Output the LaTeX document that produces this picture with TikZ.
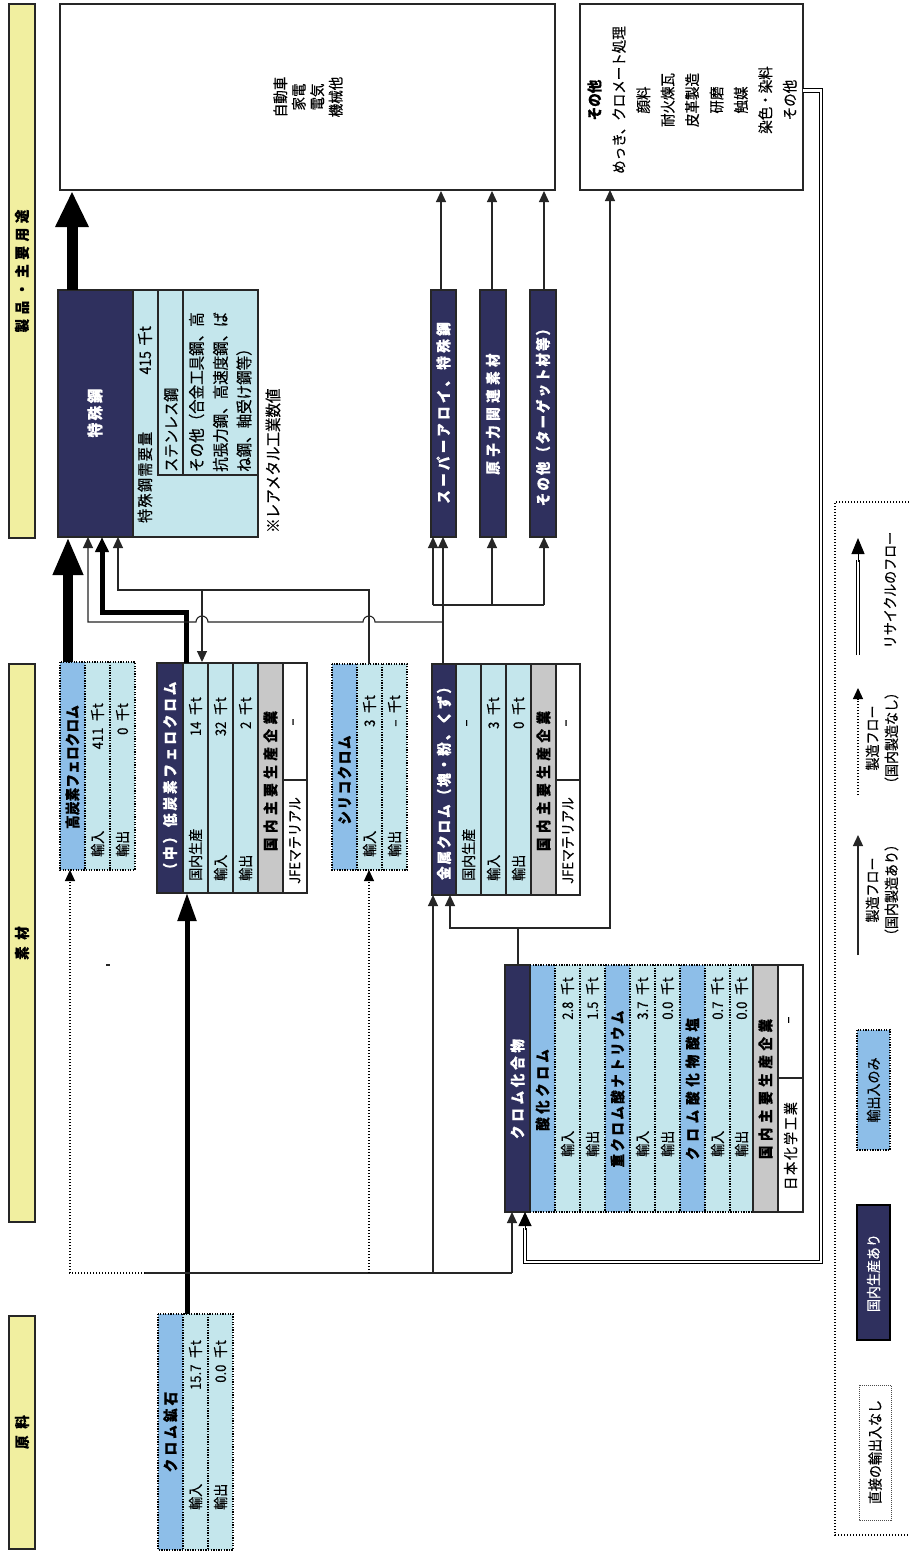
\documentclass[tikz,border=0pt]{standalone}
\usepackage{fontspec}
\setmainfont{Noto Sans CJK JP}
\usetikzlibrary{arrows.meta}
\definecolor{navyc}{RGB}{47,48,94}
\definecolor{hdrc}{RGB}{141,190,232}
\definecolor{cyc}{RGB}{196,230,236}
\definecolor{grayc}{RGB}{200,200,200}
\definecolor{bandc}{RGB}{241,239,160}
\newcommand{\fs}[1]{\fontsize{#1}{#1}\selectfont\addfontfeature{FakeBold=0.4}}
\tikzset{
  rt/.style={rotate=90, yscale=1.12, inner sep=0pt, font=\fs{13}},
  rth/.style={rotate=90, yscale=1.1, inner sep=0pt, font=\bfseries\fs{13.5}\addfontfeature{LetterSpace=#1}},
  rth/.default=25,
  sol/.style={draw=black!85, line width=1.3pt},
  dotb/.style={draw=black, line width=1.3pt, dash pattern=on 1.3pt off 1.3pt},
  flow/.style={draw=black!85, line width=1.1pt},
  dflow/.style={draw=black, line width=1.2pt, dash pattern=on 1.2pt off 1.8pt},
  up/.style={-{Triangle[length=11pt,width=10pt]}},
  dbl/.style={draw=black, line width=1.1pt, double=white, double distance=2.2pt},
}
\begin{document}
\begin{tikzpicture}[x=1pt,y=-1pt]
\useasboundingbox (0,0) rectangle (908,1552);
\fill[white] (0,0) rectangle (908,1552);

% ---------- bands ----------
\draw[sol, fill=bandc] (9,4) rectangle (35,538);
\node[rth=35] (band1) at (22,271) {製品・主要用途};
\draw[sol, fill=bandc] (9,664) rectangle (35,1222);
\node[rth] (band2) at (22,943) {素\hspace{0.5em}材};
\draw[sol, fill=bandc] (9,1316) rectangle (35,1549);
\node[rth] (band3) at (22,1432) {原\hspace{0.5em}料};

% ---------- top boxes ----------
\draw[sol, fill=white] (60,4) rectangle (555,190);
\node[rt, align=center, font=\fs{13.5}\fontsize{13.5}{16.5}\selectfont] (uses) at (308,97) {自動車\\家電\\電気\\機械他};
\draw[sol, fill=white] (580,4) rectangle (803,190);
\node[rt, align=center, font=\fs{13.5}\fontsize{13.5}{21.8}\selectfont] (other) at (692,100)
 {\textbf{その他}\\めっき、クロメート処理\\顔料\\耐火煉瓦\\皮革製造\\研磨\\触媒\\染色・染料\\その他};

% ---------- special steel ----------
\fill[cyc] (58,290) rectangle (258,537);
\fill[navyc] (58,290) rectangle (133,537);
\draw[sol] (58,290) rectangle (258,537);
\draw[sol] (133,290) -- (133,537);
\draw[sol] (158,290) rectangle (258,475);
\draw[sol] (183,290) -- (183,475);
\node[rth=25, text=white, font=\bfseries\fs{14.5}\addfontfeature{LetterSpace=18}] (ss) at (95,413) {特殊鋼};
\node[rt, anchor=west, font=\fs{14}\addfontfeature{LetterSpace=10}] (ss1) at (145,523) {特殊鋼需要量};
\node[rt, anchor=east, font=\fs{14}] (ss2) at (145,326) {415\hspace{0.4em}千t};
\node[rt, anchor=west, font=\fs{14}] (ss3) at (171,472) {ステンレス鋼};
\node[rt, anchor=west, font=\fs{14.5}] (ss4) at (196.5,472) {その他（合金工具鋼、高};
\node[rt, anchor=west, font=\fs{14.5}] (ss5) at (220.5,472) {抗張力鋼、高速度鋼、ば};
\node[rt, anchor=west, font=\fs{14.5}] (ss6) at (244,472) {ね鋼、軸受け鋼等）};
\node[rt, anchor=west, font=\fs{14.5}] (note) at (273,533) {※レアメタル工業数値};

% ---------- middle product boxes ----------
\draw[sol, fill=navyc] (431,290) rectangle (456,537);
\node[rth=25, text=white] (sa) at (443.5,413) {スーパーアロイ、特殊鋼};
\draw[sol, fill=navyc] (480,290) rectangle (506,537);
\node[rth=33, text=white] (nuc) at (493,414) {原子力関連素材};
\draw[sol, fill=navyc] (530,290) rectangle (556,537);
\node[rth=15, text=white] (tgt) at (543,414) {その他（ターゲット材等）};

% ---------- high carbon FeCr ----------
\fill[cyc] (60,662) rectangle (135,870);
\fill[hdrc] (60,662) rectangle (85,870);
\draw[dotb] (60,662) rectangle (135,870);
\draw[dotb] (85,662) -- (85,870);
\draw[dotb] (110,662) -- (110,870);
\node[rth=2] (hc) at (72.5,767) {高炭素フェロクロム};
\node[rt, anchor=west] (hc1) at (97.5,857) {輸入};
\node[rt, anchor=east] (hc2) at (97.5,703) {411\hspace{0.5em}千t};
\node[rt, anchor=west] (hc3) at (122.5,857) {輸出};
\node[rt, anchor=east] (hc4) at (122.5,703) {0\hspace{0.5em}千t};

% ---------- low carbon FeCr ----------
\fill[cyc] (157,663) rectangle (307,893);
\fill[navyc] (157,663) rectangle (183,893);
\fill[grayc] (258,663) rectangle (283,893);
\fill[white] (283,663) rectangle (307,893);
\draw[sol] (157,663) rectangle (307,893);
\foreach \xx in {183,208,233,258,283} \draw[sol] (\xx,663) -- (\xx,893);
\draw[sol] (283,780) -- (307,780);
\node[rth=22, text=white] (lc) at (170,779) {（中）低炭素フェロクロム};
\node[rt, anchor=west] (lc1) at (195.5,881) {国内生産};
\node[rt, anchor=east] (lc2) at (195.5,697) {14\hspace{0.5em}千t};
\node[rt, anchor=west] (lc3) at (220.5,881) {輸入};
\node[rt, anchor=east] (lc4) at (220.5,697) {32\hspace{0.5em}千t};
\node[rt, anchor=west] (lc5) at (245.5,881) {輸出};
\node[rt, anchor=east] (lc6) at (245.5,697) {2\hspace{0.5em}千t};
\node[rth=34] (lc7) at (270.5,781) {国内主要生産企業};
\node[rt] (lc8) at (295,722) {–};
\node[rt, anchor=west] (lc9) at (295,884) {JFEマテリアル};

% ---------- silicochrome ----------
\fill[cyc] (332,664) rectangle (407,870);
\fill[hdrc] (332,664) rectangle (357,870);
\draw[dotb] (332,664) rectangle (407,870);
\draw[dotb] (357,664) -- (357,870);
\draw[dotb] (382,664) -- (382,870);
\node[rth=12] (sc) at (344.5,780) {シリコクロム};
\node[rt, anchor=west] (sc1) at (369.5,857) {輸入};
\node[rt, anchor=east] (sc2) at (369.5,695) {3\hspace{0.5em}千t};
\node[rt, anchor=west] (sc3) at (394.5,857) {輸出};
\node[rt, anchor=east] (sc4) at (394.5,695) {–\hspace{0.5em}千t};

% ---------- metal chrome ----------
\fill[cyc] (432,664) rectangle (580,895);
\fill[navyc] (432,664) rectangle (456,895);
\fill[grayc] (531,664) rectangle (556,895);
\fill[white] (556,664) rectangle (580,895);
\draw[sol] (432,664) rectangle (580,895);
\foreach \xx in {456,481,506,531,556} \draw[sol] (\xx,664) -- (\xx,895);
\draw[sol] (556,780) -- (580,780);
\node[rth=15, text=white] (mc) at (444,780) {金属クロム（塊・粉、くず）};
\node[rt, anchor=west] (mc1) at (468.5,881) {国内生産};
\node[rt] (mc2) at (468.5,723) {–};
\node[rt, anchor=west] (mc3) at (493.5,881) {輸入};
\node[rt, anchor=east] (mc4) at (493.5,697) {3\hspace{0.5em}千t};
\node[rt, anchor=west] (mc5) at (518.5,881) {輸出};
\node[rt, anchor=east] (mc6) at (518.5,697) {0\hspace{0.5em}千t};
\node[rth=34] (mc7) at (543.5,781) {国内主要生産企業};
\node[rt] (mc8) at (568,723) {–};
\node[rt, anchor=west] (mc9) at (568,884) {JFEマテリアル};

% ---------- chrome compounds ----------
\fill[cyc] (530,965) rectangle (753,1212);
\fill[navyc] (505,965) rectangle (530,1212);
\fill[hdrc] (530,965) rectangle (555,1212);
\fill[hdrc] (605,965) rectangle (630,1212);
\fill[hdrc] (680,965) rectangle (705,1212);
\fill[grayc] (753,965) rectangle (778,1212);
\fill[white] (778,965) rectangle (803,1212);
\draw[sol] (505,965) rectangle (530,1212);
\draw[dotb] (530,965) -- (753,965);
\draw[dotb] (530,1212) -- (753,1212);
\foreach \xx in {555,580,605,630,655,680,705,730} \draw[dotb] (\xx,965) -- (\xx,1212);
\draw[sol] (753,965) rectangle (803,1212);
\draw[sol] (778,965) -- (778,1212);
\draw[sol] (778,1078) -- (803,1078);
\node[rth=28, text=white] (cc) at (517.5,1089) {クロム化合物};
\node[rth=26] (cc1) at (542.5,1090) {酸化クロム};
\node[rt, anchor=west] (cc2) at (567.5,1157) {輸入};
\node[rt, anchor=east] (cc3) at (567.5,977) {2.8\hspace{0.5em}千t};
\node[rt, anchor=west] (cc4) at (592.5,1157) {輸出};
\node[rt, anchor=east] (cc5) at (592.5,977) {1.5\hspace{0.5em}千t};
\node[rth=18] (cc6) at (617.5,1089) {重クロム酸ナトリウム};
\node[rt, anchor=west] (cc7) at (642.5,1157) {輸入};
\node[rt, anchor=east] (cc8) at (642.5,977) {3.7\hspace{0.5em}千t};
\node[rt, anchor=west] (cc9) at (667.5,1157) {輸出};
\node[rt, anchor=east] (cc10) at (667.5,977) {0.0\hspace{0.5em}千t};
\node[rth=36] (cc11) at (692.5,1089) {クロム酸化物酸塩};
\node[rt, anchor=west] (cc12) at (717.5,1157) {輸入};
\node[rt, anchor=east] (cc13) at (717.5,977) {0.7\hspace{0.5em}千t};
\node[rt, anchor=west] (cc14) at (741.5,1157) {輸出};
\node[rt, anchor=east] (cc15) at (741.5,977) {0.0\hspace{0.5em}千t};
\node[rth=34] (cc16) at (765.5,1089) {国内主要生産企業};
\node[rt] (cc17) at (790.5,1020) {–};
\node[rt, anchor=west, font=\fs{13}\addfontfeature{LetterSpace=15}] (cc18) at (790.5,1190) {日本化学工業};

% ---------- chrome ore ----------
\fill[cyc] (158,1314) rectangle (233,1550);
\fill[hdrc] (158,1314) rectangle (183,1550);
\draw[dotb] (158,1314) rectangle (233,1550);
\draw[dotb] (183,1314) -- (183,1550);
\draw[dotb] (208,1314) -- (208,1550);
\node[rth=24] (ore) at (170.5,1432) {クロム鉱石};
\node[rt, anchor=west] (ore1) at (195.5,1510) {輸入};
\node[rt, anchor=east] (ore2) at (195.5,1340) {15.7\hspace{0.5em}千t};
\node[rt, anchor=west] (ore3) at (220.5,1510) {輸出};
\node[rt, anchor=east] (ore4) at (220.5,1340) {0.0\hspace{0.5em}千t};

% ---------- connectors ----------
\coordinate (ssTop) at (72,290);
\coordinate (usesBot) at (72,191);
\draw[line width=11pt, -{Triangle[length=36pt,width=31pt]}] (ssTop) -- (usesBot);
\draw[flow, up] (441,290) -- (441,191);
\draw[flow, up] (492,290) -- (492,191);
\draw[flow, up] (544,290) -- (544,191);

\draw[line width=10.5pt, -{Triangle[length=38pt,width=28pt]}] (68,662) -- (68,537);
\draw[line width=5pt, line join=miter, -{Triangle[length=15pt,width=13pt]}] (186,663) -- (186,612) -- (102,612) -- (102,537);
\draw[flow, up] (369,664) -- (369,590) -- (118,590) -- (118,537);
\draw[flow, up] (202,590) -- (202,662);
\draw[flow, up] (443,664) -- (443,537);
\draw[flow, up] (443,622) -- (375,622) arc[start angle=0, end angle=-180, radius=6] -- (208,622) arc[start angle=0, end angle=-180, radius=6] -- (88,622) -- (88,537);
\draw[flow] (433,605) -- (544,605);
\draw[flow, up] (433,605) -- (433,537);
\draw[flow, up] (492,605) -- (492,537);
\draw[flow, up] (544,605) -- (544,537);

\draw[line width=5pt, -{Triangle[length=28pt,width=18pt]}] (187,1314) -- (187,893);
\draw[flow] (145,1273) -- (512,1273);
\draw[dflow, up] (145,1273) -- (70,1273) -- (70,870);
\draw[dflow, up] (369,1273) -- (369,870);
\draw[flow, up] (433,1273) -- (433,895);
\draw[flow, up] (512,1273) -- (512,1212);
\draw[flow] (518,965) -- (518,928);
\draw[flow, up] (518,928) -- (450,928) -- (450,895);
\draw[flow, up] (518,928) -- (610,928) -- (610,190);
\draw[dbl] (803,90.5) -- (821,90.5) -- (821,1262) -- (525,1262) -- (525,1228);
\draw[-{Triangle[length=14pt,width=13pt]}, line width=1pt] (525,1230) -- (525,1212);
\draw[flow] (106,965) -- (110,965);

% ---------- legend ----------
\draw[dflow] (912,502) -- (835,502) -- (835,1535) -- (912,1535);
\draw[dbl] (858,655) -- (858,560);
\draw[-{Triangle[length=16pt,width=13pt]}, line width=1pt] (858,562) -- (858,538);
\node[rt, font=\fs{13}] (lg1) at (890,590) {リサイクルのフロー};
\draw[dflow, up] (858,795) -- (858,688);
\node[rt, align=center, font=\fs{13}\fontsize{13}{17}\selectfont] (lg2) at (882,738) {製造フロー\\（国内製造なし）};
\draw[flow, line width=1.3pt, up] (858,955) -- (858,835);
\node[rt, align=center, font=\fs{13}\fontsize{13}{17}\selectfont] (lg3) at (882,890) {製造フロー\\（国内製造あり）};
\draw[dotb, fill=hdrc] (857,1030) rectangle (890,1150);
\node[rt, font=\fs{13}] (lg4) at (873.5,1090) {輸出入のみ};
\draw[draw=black, line width=2pt, fill=navyc] (857,1205) rectangle (890,1340);
\node[rt, font=\fs{13}, text=white] (lg5) at (873.5,1273) {国内生産あり};
\draw[draw=black!70, line width=0.8pt, dash pattern=on 1pt off 1pt] (859,1385) rectangle (891,1520);
\node[rt, font=\fs{13}] (lg6) at (875,1452) {直接の輸出入なし};
\end{tikzpicture}
\end{document}
